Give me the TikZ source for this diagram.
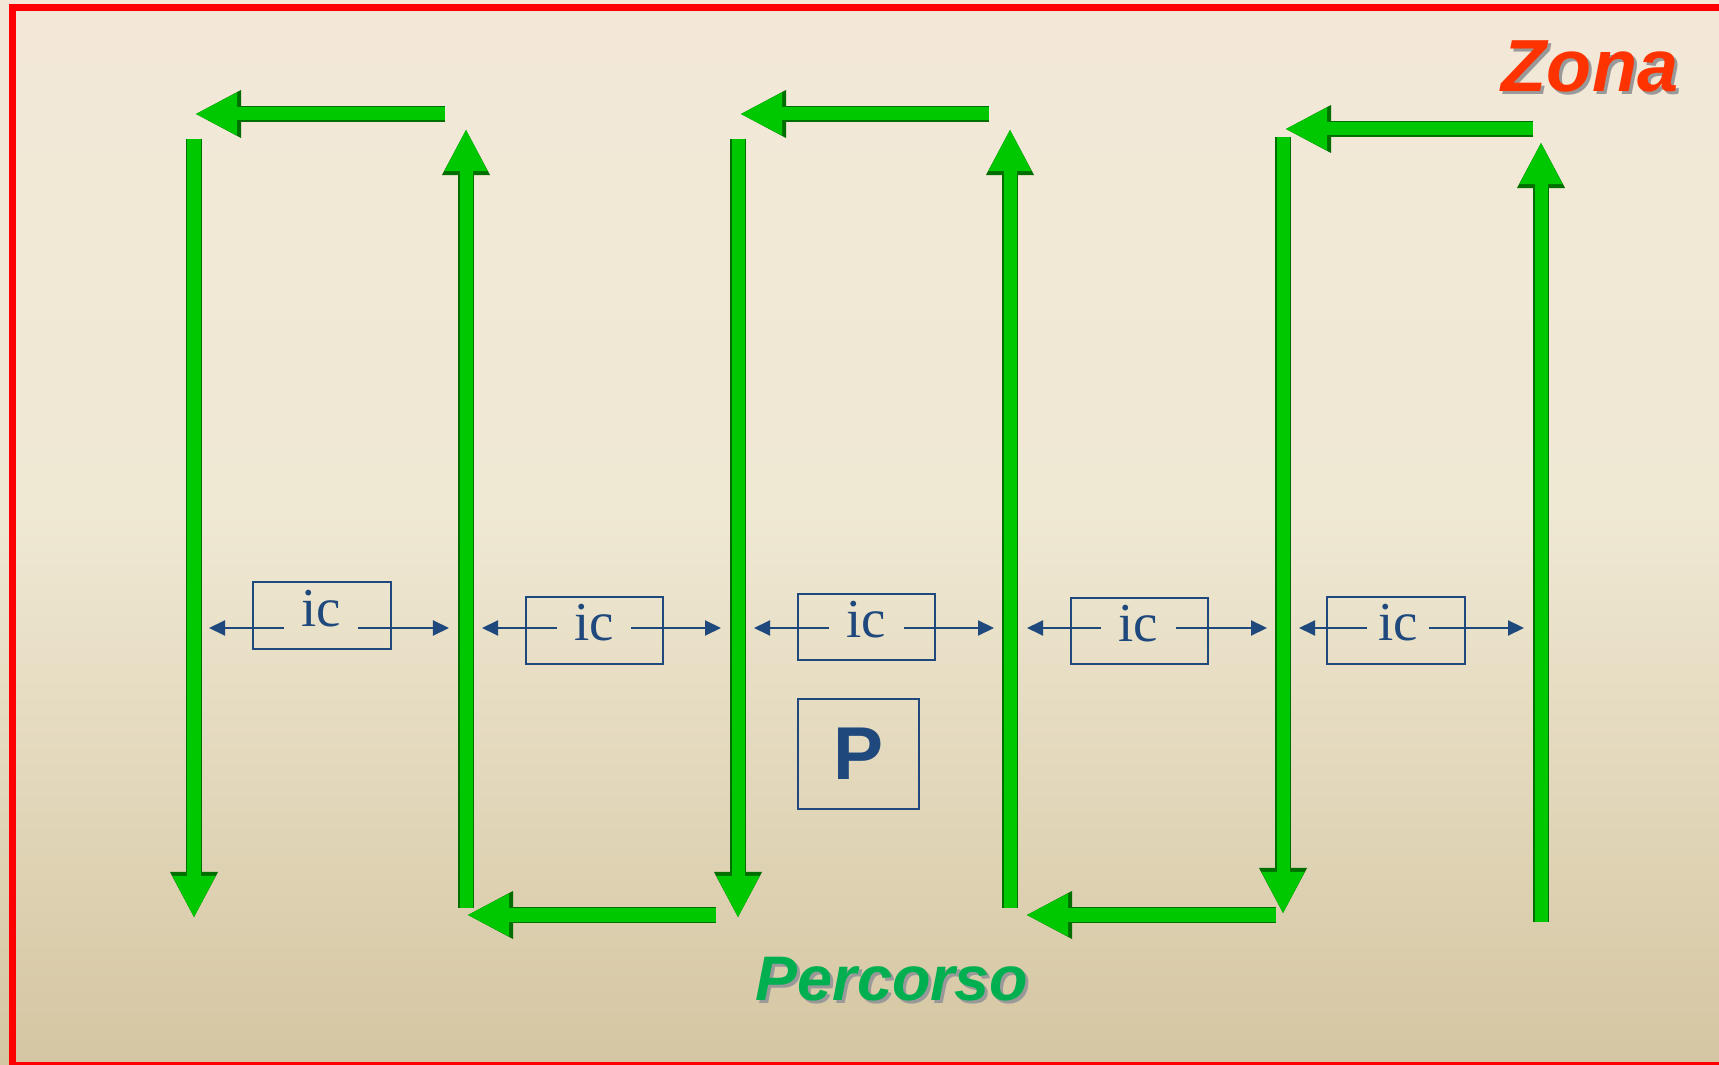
\documentclass[tikz,border=0pt]{standalone}
\usepackage{fontspec}
\setmainfont{Liberation Serif}
\setsansfont{Liberation Sans}
\usepackage{tikz}
\usetikzlibrary{
  positioning,
  arrows.meta
}
\definecolor{lanegreen}{RGB}{0,200,0}
\definecolor{lanedark}{RGB}{0,110,0}
\definecolor{icblue}{RGB}{31,73,125}
\definecolor{zonared}{RGB}{255,51,0}
\definecolor{percgreen}{RGB}{0,176,80}
\definecolor{bgtop}{RGB}{243,232,216}
\definecolor{bgmid}{RGB}{239,232,211}
\definecolor{bgbot}{RGB}{213,198,162}
\pgfdeclareverticalshading{paper}{100bp}{color(0bp)=(bgbot); color(25bp)=(bgbot); color(51bp)=(bgmid); color(75bp)=(bgtop); color(100bp)=(bgtop)}

\begin{document}
\begin{tikzpicture}[x=0.01cm, y=-0.01cm,
	lane/.style={draw=lanegreen, line width=0.13cm,
		-{Triangle[width=0.43cm, length=0.41cm, line width=0pt]},
		preaction={draw=lanedark, line width=0.16cm,
			-{Triangle[width=0.48cm, length=0.45cm, line width=0pt]}}},
	icbox/.style={draw=icblue, line width=0.02cm, minimum width=1.37cm, minimum height=0.66cm, inner sep=0pt},
	ictext/.style={text=icblue, font=\fontsize{15.6}{18}\selectfont, minimum width=0.73cm, inner sep=0pt, anchor=base},
	icarrow/.style={draw=icblue, line width=0.02cm, -{Triangle[width=0.15cm, length=0.16cm]}},
	shadowtext/.style={text=black!40, anchor=base}]

	    % background and frame
	    \useasboundingbox (0,0) rectangle (1719,1065);
	    \shade[shading=paper] (0,0) rectangle (1719,1065);
	    \draw[red, line width=0.065cm] (12.5,7.5) rectangle (1726,1065.5);

	    % lane ends
	    \coordinate (a1) at (194,139);  \coordinate (a2) at (194,917);
	    \coordinate (b1) at (445,114);  \coordinate (b2) at (196,114);
	    \coordinate (c1) at (466,908);  \coordinate (c2) at (466,130);
	    \coordinate (d1) at (716,915);  \coordinate (d2) at (468,915);
	    \coordinate (e1) at (738,139);  \coordinate (e2) at (738,917);
	    \coordinate (f1) at (989,114);  \coordinate (f2) at (741,114);
	    \coordinate (g1) at (1010,908); \coordinate (g2) at (1010,130);
	    \coordinate (h1) at (1276,915); \coordinate (h2) at (1027,915);
	    \coordinate (k1) at (1283,137); \coordinate (k2) at (1283,913);
	    \coordinate (m1) at (1533,129); \coordinate (m2) at (1286,129);
	    \coordinate (n1) at (1541,922); \coordinate (n2) at (1541,143);

	    % lanes
	    \draw[lane] (a1) -- (a2);
	    \draw[lane] (b1) -- (b2);
	    \draw[lane] (c1) -- (c2);
	    \draw[lane] (d1) -- (d2);
	    \draw[lane] (e1) -- (e2);
	    \draw[lane] (f1) -- (f2);
	    \draw[lane] (g1) -- (g2);
	    \draw[lane] (h1) -- (h2);
	    \draw[lane] (k1) -- (k2);
	    \draw[lane] (m1) -- (m2);
	    \draw[lane] (n1) -- (n2);

	    % ic boxes
	    \node[icbox] (box1) at (322,615.5) {};
	    \node[icbox] (box2) at (594.5,630.5) {};
	    \node[icbox] (box3) at (866.5,627) {};
	    \node[icbox] (box4) at (1139.5,631) {};
	    \node[icbox] (box5) at (1396,630.5) {};

	    \node[ictext] (ic1) at (321,627) {ic};
	    \node[ictext] (ic2) at (594,641) {ic};
	    \node[ictext] (ic3) at (866.5,638) {ic};
	    \node[ictext] (ic4) at (1138.5,642) {ic};
	    \node[ictext, minimum width=0.6cm] (ic5) at (1398,641) {ic};

	    % ic spans
	    \coordinate (ic1l) at (209,628);  \coordinate (ic1r) at (449,628);
	    \coordinate (ic2l) at (482,628);  \coordinate (ic2r) at (721,628);
	    \coordinate (ic3l) at (754,628);  \coordinate (ic3r) at (994,628);
	    \coordinate (ic4l) at (1027,628); \coordinate (ic4r) at (1267,628);
	    \coordinate (ic5l) at (1299,628); \coordinate (ic5r) at (1524,628);

	    \draw[icarrow] (ic1l -| ic1.west) -- (ic1l);
	    \draw[icarrow] (ic1r -| ic1.east) -- (ic1r);
	    \draw[icarrow] (ic2l -| ic2.west) -- (ic2l);
	    \draw[icarrow] (ic2r -| ic2.east) -- (ic2r);
	    \draw[icarrow] (ic3l -| ic3.west) -- (ic3l);
	    \draw[icarrow] (ic3r -| ic3.east) -- (ic3r);
	    \draw[icarrow] (ic4l -| ic4.west) -- (ic4l);
	    \draw[icarrow] (ic4r -| ic4.east) -- (ic4r);
	    \draw[icarrow] (ic5l -| ic5.west) -- (ic5l);
	    \draw[icarrow] (ic5r -| ic5.east) -- (ic5r);

	    % P
	    \node[draw=icblue, line width=0.02cm, minimum width=1.21cm, minimum height=1.1cm,
	        text=icblue, font=\sffamily\bfseries\fontsize{21.3}{24}\selectfont] (park) at (858.5,754) {P};

	    % labels
	    \node[shadowtext, font=\sffamily\bfseries\itshape\fontsize{21}{24}\selectfont] (zonashadow) at (1593,95) {Zona};
	    \node[anchor=base, text=zonared, font=\sffamily\bfseries\itshape\fontsize{21}{24}\selectfont] (zona) at (1590,92) {Zona};
	    \node[shadowtext, font=\sffamily\bfseries\itshape\fontsize{17.9}{21}\selectfont] (percshadow) at (895,1003) {Percorso};
	    \node[anchor=base, text=percgreen, font=\sffamily\bfseries\itshape\fontsize{17.9}{21}\selectfont] (percorso) at (892,1000) {Percorso};

	\end{tikzpicture}
\end{document}
